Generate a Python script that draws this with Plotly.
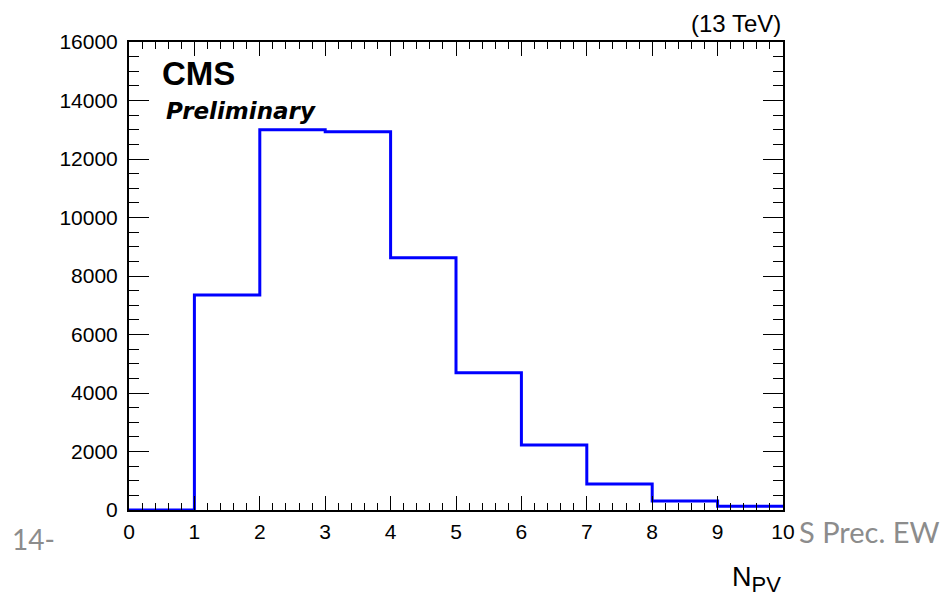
import plotly.graph_objects as go

# Number of primary vertices, unit-width bins from 0 to 10
bin_edges = [0, 1, 2, 3, 4, 5, 6, 7, 8, 9, 10]
counts = [0, 7350, 13000, 12930, 8620, 4690, 2220, 890, 310, 130]

y_ticks = [0, 2000, 4000, 6000, 8000, 10000, 12000, 14000, 16000]
y_tick_labels = ["0", "2000", "4000", "6000", "8000", "10000", "12000", "14000", "16000"]
x_ticks = [0, 1, 2, 3, 4, 5, 6, 7, 8, 9, 10]
x_tick_labels = ["0", "1", "2", "3", "4", "5", "6", "7", "8", "9", "10"]

FONT = "Liberation Sans, Arial, sans-serif"

fig = go.Figure()

# Step outline of the histogram
fig.add_trace(go.Scatter(
    x=bin_edges,
    y=counts + [counts[-1]],
    mode="lines",
    line=dict(shape="hv", color="#0000ff", width=3),
    hoverinfo="skip",
    showlegend=False,
))

axis_common = dict(
    showline=True, linecolor="black", linewidth=2, mirror="allticks",
    ticks="inside", tickcolor="black", tickwidth=1.3,
    showgrid=False, zeroline=False,
    tickfont=dict(family=FONT, size=21, color="black"),
)

fig.update_xaxes(
    range=[0, 10], tickvals=x_ticks, ticktext=x_tick_labels, ticklen=14,
    ticklabelstandoff=2,
    minor=dict(dtick=0.2, ticks="inside", ticklen=7, tickcolor="black", tickwidth=1.3),
    **axis_common,
)
fig.update_yaxes(
    range=[0, 16000], tickvals=y_ticks, ticktext=y_tick_labels, ticklen=20,
    ticklabelstandoff=5,
    minor=dict(dtick=500, ticks="inside", ticklen=10, tickcolor="black", tickwidth=1.3),
    **axis_common,
)

annotations = [
    dict(text="(13 TeV)", x=1, y=1.0385, xanchor="right", yanchor="middle",
         font=dict(family=FONT, size=24, color="black")),
    dict(text="<b>CMS</b>", x=0.047, y=0.932, xanchor="left", yanchor="middle",
         font=dict(family=FONT, size=33, color="black")),
    dict(text="<b><i>Preliminary</i></b>", x=0.053, y=0.853, xanchor="left", yanchor="middle",
         font=dict(family="DejaVu Sans, sans-serif", size=23, color="black")),
    dict(text="N<sub><span style='font-size:22px'>PV</span></sub>", x=1, y=-0.148,
         xanchor="right", yanchor="middle",
         font=dict(family=FONT, size=27, color="black")),
    # slide footer text around the figure
    dict(text="14-", x=-0.182, y=-0.062, xanchor="left", yanchor="middle",
         font=dict(family="Lato, sans-serif", size=28, color="#8c8c8c")),
    dict(text="S Prec. EW", x=1.0214, y=-0.047, xanchor="left", yanchor="middle",
         font=dict(family="Lato, sans-serif", size=29, color="#8c8c8c")),
]
for a in annotations:
    a.update(xref="paper", yref="paper", showarrow=False)

fig.update_layout(
    width=943, height=596,
    margin=dict(l=129, r=160, t=42, b=86),
    paper_bgcolor="white", plot_bgcolor="white",
    annotations=annotations,
)

fig.write_html("out.html")
